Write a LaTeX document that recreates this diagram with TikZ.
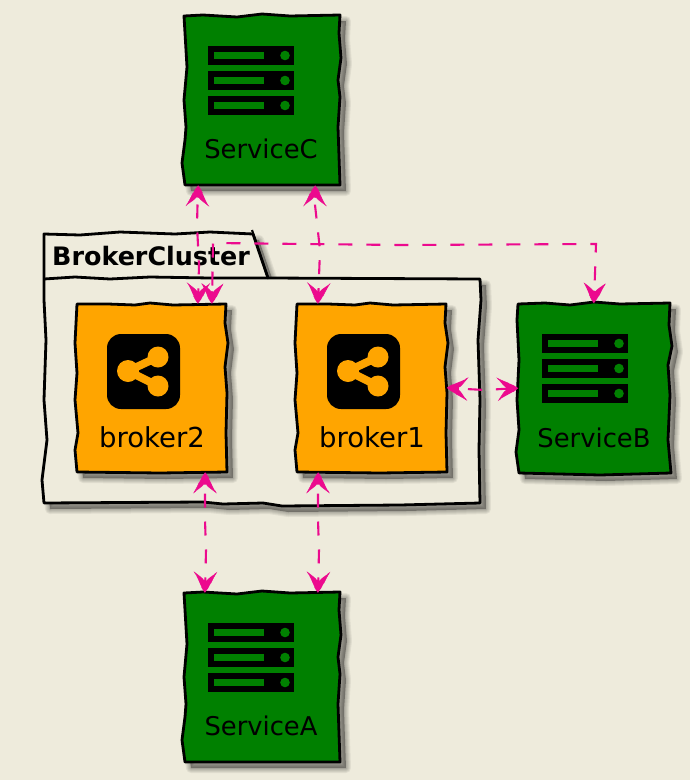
\documentclass[tikz,border=0pt]{standalone}
\usepackage{fontspec}
\setmainfont{DejaVu Sans}
\usetikzlibrary{arrows.meta}
\pgfdeclarearrow{
  name=Swept,
  setup code={%
    \pgfarrowssettipend{0pt}%
    \pgfarrowssetlineend{-10pt}%
    \pgfarrowssetbackend{-19pt}%
    \pgfarrowssetvisualbackend{-11pt}%
    \pgfarrowshullpoint{0pt}{0pt}%
    \pgfarrowshullpoint{-20pt}{11pt}%
    \pgfarrowshullpoint{-20pt}{-11pt}%
  },
  drawing code={%
    \pgfsetfillcolor{pinkc}%
    \pgfsetstrokecolor{pinkc}%
    \pgfsetlinewidth{0.5pt}%
    \pgfpathmoveto{\pgfpoint{0pt}{0pt}}%
    \pgfpathcurveto{\pgfpoint{-5pt}{4.5pt}}{\pgfpoint{-12pt}{6pt}}{\pgfpoint{-20pt}{11pt}}%
    \pgfpathcurveto{\pgfpoint{-17pt}{7pt}}{\pgfpoint{-14pt}{2.5pt}}{\pgfpoint{-12pt}{1.3pt}}%
    \pgfpathlineto{\pgfpoint{-12pt}{-1.3pt}}%
    \pgfpathcurveto{\pgfpoint{-14pt}{-2.5pt}}{\pgfpoint{-17pt}{-7pt}}{\pgfpoint{-20pt}{-11pt}}%
    \pgfpathcurveto{\pgfpoint{-12pt}{-6pt}}{\pgfpoint{-5pt}{-4.5pt}}{\pgfpoint{0pt}{0pt}}%
    \pgfpathclose
    \pgfusepathqfillstroke
  },
}
\definecolor{bgc}{HTML}{EEEBDC}
\definecolor{svc}{HTML}{008000}
\definecolor{brk}{HTML}{FFA500}
\definecolor{pinkc}{HTML}{EC0A8E}
\tikzset{
  boxanchor/.style={inner sep=0pt,outer sep=0pt,minimum width=#1},
  hand/.style={draw=black,line width=2.8pt,line join=round},
  lab/.style={font=\fontsize{25.8}{28}\selectfont,anchor=base,inner sep=0pt},
  labb/.style={font=\fontsize{27.5}{28}\selectfont,anchor=base,inner sep=0pt},
  conn/.style={draw=pinkc,line width=2.1pt,{Swept}-{Swept},dash pattern=on 14pt off 14pt,dash phase=#1},
  conn/.default=17pt
}
\newcommand{\softshadow}[1]{%
  \fill[shift={(6,6)},black,opacity=.33] #1;
  \foreach \w in {10,8,6,4,2}{%
    \draw[shift={(6,6)},draw=black,opacity=.06,line width=\w pt,line join=round] #1;}}
\newcommand{\srvicon}[2]{%
  \begin{scope}[shift={(#1,#2)}]
    \foreach \yy in {0,25,50}{%
      \fill[black] (0,\yy) rectangle (86,\yy+18.5);
      \fill[svc] (6,\yy+6.3) rectangle (56,\yy+13);
      \fill[svc] (77,\yy+9.5) circle[radius=4.8pt];
    }
  \end{scope}}
\newcommand{\shareicon}[2]{%
  \begin{scope}[shift={(#1,#2)}]
    \fill[black,rounded corners=14pt] (0,0) rectangle (73,75);
    \draw[brk,line width=8pt] (51,23) -- (21,37) -- (51,52);
    \fill[brk] (21,37) circle[radius=11pt] (51,23) circle[radius=10.5pt] (51,52) circle[radius=10.5pt];
  \end{scope}}
\def\svcpath{(184,16) -- (203,15) -- (237,17) -- (262,14) -- (290,16) -- (340,15) -- (339,33) -- (341,58) -- (338,80) -- (340,97) -- (338,127) -- (340,185) -- (262,185) -- (185,185) -- (182,163) -- (185,140) -- (186,127) -- (184,100) -- (187,67) -- cycle}
\def\sbpath{(518,304) -- (545,303) -- (570,305) -- (594,302) -- (620,304) -- (670,303) -- (669,325) -- (672,346) -- (668,365) -- (670,395) -- (668,440) -- (671,473) -- (600,475) -- (519,473) -- (516,452) -- (519,430) -- (517,400) -- (519,360) -- (517,320) -- cycle}
\def\brkpath{(77,304) -- (108,304) -- (135,305) -- (150,303) -- (173,305) -- (226,304) -- (225,323) -- (228,343) -- (225,367) -- (227,393) -- (226,433) -- (227,472) -- (160,473) -- (77,472) -- (75,450) -- (78,433) -- (75,400) -- (77,373) -- (75,343) -- cycle}
\def\pkgpath{(44,234) -- (80,235) -- (120,232) -- (175,234) -- (210,232) -- (253,234) -- (268,278) -- (480,279) -- (481,300) -- (478,340) -- (480,400) -- (479,450) -- (480,503) -- (400,505) -- (282,506) -- (263,503) -- (223,504) -- (203,502) -- (44,503) -- (42,480) -- (47,440) -- (44,400) -- (46,340) -- (44,300) -- cycle}
\begin{document}
\begin{tikzpicture}[x=1pt,y=-1pt]
\useasboundingbox (0,0) rectangle (690,780);
\fill[bgc] (0,0) rectangle (690,780);
% package
\softshadow{\pkgpath}
\path[hand,fill=bgc] \pkgpath;
\draw[hand] (44,279) -- (75,277) -- (110,279) -- (150,277) -- (210,278) -- (268,278);
\draw[hand,line width=2.2pt] (252,230) -- (268,278);
\node[font=\bfseries\fontsize{25.4}{28}\selectfont,anchor=base west,inner sep=0pt] (pkglabel) at (52,265) {BrokerCluster};
% boxes
\foreach \dy/\nm in {0/C,577/A}{%
  \begin{scope}[yshift=-\dy pt]
    \softshadow{\svcpath}
    \path[hand,fill=svc] \svcpath;
    \srvicon{208}{46}
  \end{scope}}
\softshadow{\sbpath}
\path[hand,fill=svc] \sbpath;
\srvicon{542}{334}
\foreach \dx in {0,220}{%
  \begin{scope}[xshift=\dx pt]
    \softshadow{\brkpath}
    \path[hand,fill=brk] \brkpath;
    \shareicon{107}{334}
  \end{scope}}
% named boxes
\node[boxanchor=156pt,minimum height=170pt] (serviceC) at (262,100.5) {};
\node[boxanchor=156pt,minimum height=170pt] (serviceA) at (262,677.5) {};
\node[boxanchor=152pt,minimum height=170pt] (serviceB) at (594,388) {};
\node[boxanchor=150pt,minimum height=169pt] (broker2) at (152,388) {};
\node[boxanchor=150pt,minimum height=169pt] (broker1) at (372,388) {};
% labels
\node[lab] (labC) at (261,158) {ServiceC};
\node[lab] (labA) at (261,735) {ServiceA};
\node[lab] (labB) at (594,447) {ServiceB};
\node[labb] (labb2) at (152,447) {broker2};
\node[labb] (labb1) at (372,447) {broker1};
% waypoints
\coordinate (w1) at (197,225);
\coordinate (w2) at (199,265);
\coordinate (w3) at (315,205);
\coordinate (w4) at (320,250);
\coordinate (w5) at (205,520);
\coordinate (w6) at (206,550);
\coordinate (w7) at (318,520);
\coordinate (w8) at (319,550);
\coordinate (w9) at (213,243);
\coordinate (w10) at (400,245);
\coordinate (w11) at (596,244);
\coordinate (w12) at (485,390);
% connectors
\draw[conn=19pt] ([xshift=-64pt]serviceC.south) -- (w1) -- (w2) -- ([xshift=46pt]broker2.north);
\draw[conn=19pt] ([xshift=53pt]serviceC.south) -- (w3) -- (w4) -- ([xshift=-54pt]broker1.north);
\draw[conn=20pt] ([xshift=60pt]broker2.north) -- (w9) -- (w10) -- (w11) -- (serviceB.north);
\draw[conn] ([xshift=53pt]broker2.south) -- (w5) -- (w6) -- ([xshift=-57pt]serviceA.north);
\draw[conn] ([xshift=-54pt]broker1.south) -- (w7) -- (w8) -- ([xshift=56pt]serviceA.north);
\draw[conn] (broker1.east) -- (w12) -- (serviceB.west);
\end{tikzpicture}
\end{document}
